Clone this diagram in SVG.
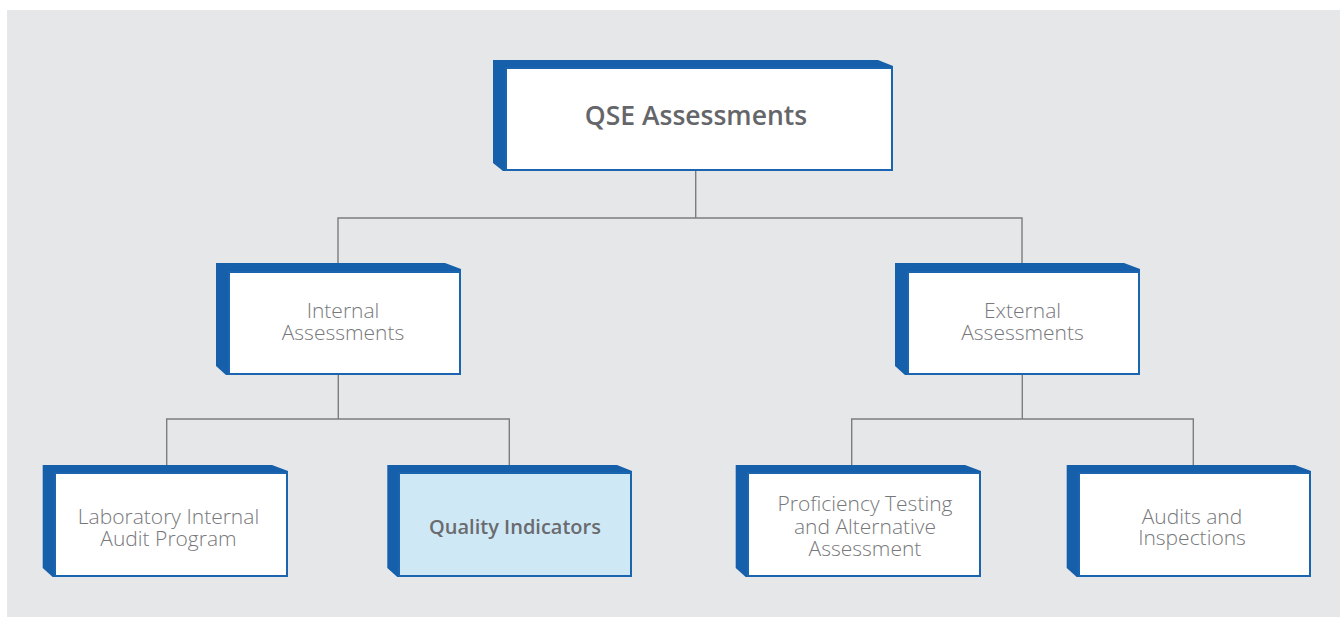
<svg xmlns="http://www.w3.org/2000/svg" width="1340" height="617" viewBox="0 0 1340 617">
<style>
.side{fill:#155fab}
.face{fill:#ffffff;stroke:#1b64b0;stroke-width:2}
.face.hl{fill:#cfe8f6}
.lbl{font-family:"Open Sans","Noto Sans","Liberation Sans",sans-serif;font-size:21px;font-weight:300;fill:#77787b;text-anchor:middle}
.title{font-family:"Open Sans","Noto Sans","Liberation Sans",sans-serif;font-size:26.5px;font-weight:600;fill:#656669;text-anchor:middle}
.bold{font-family:"Open Sans","Noto Sans","Liberation Sans",sans-serif;font-size:20px;font-weight:600;fill:#6a6b6e;text-anchor:middle}
.conn{fill:none;stroke:#7d7d7f;stroke-width:1.4}
</style>
<rect x="7" y="10" width="1333" height="607" fill="#e6e7e8"/>
<g id="connectors">
<path class="conn" d="M695.7 171V218M338 263V218H1022V263"/>
<path class="conn" d="M338.3 375V419M166.7 465V419H509.3V465"/>
<path class="conn" d="M1022.3 375V419M851.7 465V419H1193.3V465"/>
</g>
<g id="qse">
<polygon class="side" points="493,60 878,60 893,66 893,171 503,171 493,163"/>
<rect class="face" x="506" y="68" width="386" height="102"/>
<text class="title" x="696" y="124.5">QSE Assessments</text>
</g>
<g id="internal">
<polygon class="side" points="216,263 445,263 461,269 461,375 226,375 216,366"/>
<rect class="face" x="229" y="272" width="231" height="102"/>
<text class="lbl" x="343" y="318">Internal</text>
<text class="lbl" x="343" y="340">Assessments</text>
</g>
<g id="external">
<polygon class="side" points="895,263 1124,263 1140,269 1140,375 905,375 895,366"/>
<rect class="face" x="908" y="272" width="231" height="102"/>
<text class="lbl" x="1022.5" y="318">External</text>
<text class="lbl" x="1022.5" y="340">Assessments</text>
</g>
<g id="lab">
<polygon class="side" points="42.7,465 272,465 288,471 288,577 52.7,577 42.7,568"/>
<rect class="face" x="55" y="473" width="232" height="103"/>
<text class="lbl" x="168.5" y="523.5">Laboratory Internal</text>
<text class="lbl" x="168.5" y="546">Audit Program</text>
</g>
<g id="quality">
<polygon class="side" points="387.3,465 617,465 632,471 632,577 397.3,577 387.3,568"/>
<rect class="face hl" x="399" y="473" width="232" height="103"/>
<text class="bold" x="515" y="534">Quality Indicators</text>
</g>
<g id="proficiency">
<polygon class="side" points="735.7,465 965,465 981,471 981,577 745.7,577 735.7,568"/>
<rect class="face" x="748" y="473" width="232" height="103"/>
<text class="lbl" x="865" y="511">Proficiency Testing</text>
<text class="lbl" x="865" y="533.5">and Alternative</text>
<text class="lbl" x="865" y="556">Assessment</text>
</g>
<g id="audits">
<polygon class="side" points="1066.7,465 1295,465 1311,471 1311,577 1076.7,577 1066.7,568"/>
<rect class="face" x="1079" y="473" width="231" height="103"/>
<text class="lbl" x="1192" y="523.5">Audits and</text>
<text class="lbl" x="1192" y="545">Inspections</text>
</g>
</svg>
